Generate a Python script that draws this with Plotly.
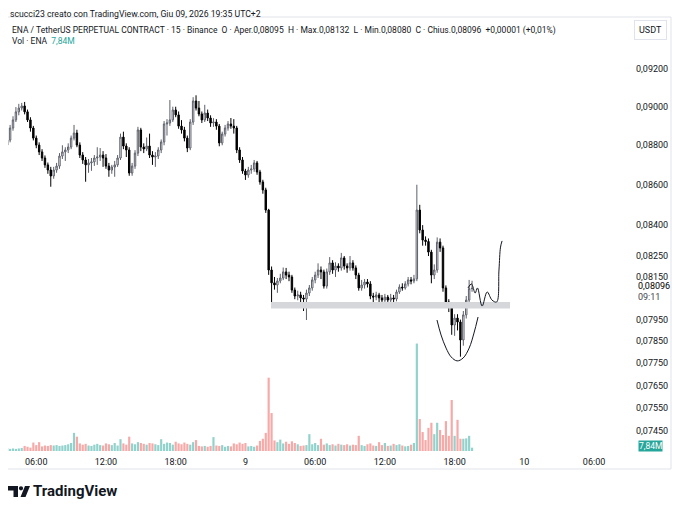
import numpy as np
import pandas as pd
import plotly.graph_objects as go

# ENA/USDT perp, 15m candles, Binance
opens = [
    0.08801, 0.08827, 0.08889, 0.08931, 0.08973, 0.08993, 0.09004, 0.08973, 0.08931, 0.08889,
    0.08837, 0.08801, 0.08766, 0.08735, 0.08700, 0.08674, 0.08644, 0.08674, 0.08694, 0.08745,
    0.08766, 0.08776, 0.08791, 0.08837, 0.08863, 0.08801, 0.08750, 0.08725, 0.08700, 0.08710,
    0.08715, 0.08735, 0.08740, 0.08750, 0.08735, 0.08694, 0.08674, 0.08689, 0.08700, 0.08735,
    0.08842, 0.08796, 0.08776, 0.08659, 0.08694, 0.08760, 0.08879, 0.08791, 0.08781, 0.08796,
    0.08750, 0.08740, 0.08745, 0.08776, 0.08817, 0.08910, 0.08915, 0.08931, 0.08983, 0.08957,
    0.08899, 0.08879, 0.08837, 0.08786, 0.08920, 0.09030, 0.08993, 0.08962, 0.08931, 0.08967,
    0.08941, 0.08915, 0.08920, 0.08899, 0.08812, 0.08858, 0.08889, 0.08910, 0.08899, 0.08889,
    0.08776, 0.08725, 0.08669, 0.08649, 0.08674, 0.08679, 0.08710, 0.08664, 0.08614, 0.08574,
    0.08474, 0.08183, 0.08122, 0.08112, 0.08131, 0.08145, 0.08174, 0.08159, 0.08150, 0.08088,
    0.08060, 0.08065, 0.08051, 0.08046, 0.08074, 0.08098, 0.08136, 0.08159, 0.08183, 0.08174,
    0.08107, 0.08174, 0.08217, 0.08183, 0.08202, 0.08193, 0.08241, 0.08202, 0.08193, 0.08217,
    0.08193, 0.08159, 0.08098, 0.08112, 0.08126, 0.08117, 0.08060, 0.08055, 0.08065, 0.08051,
    0.08041, 0.08055, 0.08041, 0.08051, 0.08046, 0.08079, 0.08102, 0.08098, 0.08117, 0.08136,
    0.08131, 0.08141, 0.08474, 0.08376, 0.08327, 0.08320, 0.08269, 0.08159, 0.08183, 0.08317,
    0.08289, 0.08098, 0.08032, 0.08013, 0.07925, 0.07957, 0.07939, 0.07856, 0.07972, 0.08041,
    0.08095,
]
highs = [
    0.08860, 0.08905, 0.08950, 0.08998, 0.09015, 0.09020, 0.09025, 0.08985, 0.08945, 0.08900,
    0.08850, 0.08815, 0.08780, 0.08748, 0.08712, 0.08690, 0.08690, 0.08710, 0.08760, 0.08800,
    0.08790, 0.08810, 0.08850, 0.08905, 0.08880, 0.08815, 0.08765, 0.08740, 0.08730, 0.08735,
    0.08750, 0.08790, 0.08786, 0.08770, 0.08755, 0.08710, 0.08700, 0.08720, 0.08750, 0.08860,
    0.08870, 0.08810, 0.08790, 0.08710, 0.08775, 0.08895, 0.08890, 0.08810, 0.08840, 0.08860,
    0.08770, 0.08765, 0.08790, 0.08830, 0.08925, 0.08935, 0.09035, 0.09000, 0.09000, 0.08975,
    0.08930, 0.08895, 0.08850, 0.08935, 0.09050, 0.09060, 0.09030, 0.08975, 0.09010, 0.08985,
    0.08955, 0.08940, 0.08935, 0.08910, 0.08870, 0.08905, 0.08925, 0.08941, 0.08935, 0.08900,
    0.08790, 0.08740, 0.08680, 0.08690, 0.08700, 0.08725, 0.08720, 0.08675, 0.08625, 0.08585,
    0.08480, 0.08200, 0.08150, 0.08145, 0.08165, 0.08195, 0.08193, 0.08175, 0.08160, 0.08100,
    0.08085, 0.08080, 0.08065, 0.08090, 0.08112, 0.08150, 0.08175, 0.08215, 0.08200, 0.08185,
    0.08190, 0.08245, 0.08230, 0.08220, 0.08215, 0.08265, 0.08250, 0.08215, 0.08250, 0.08230,
    0.08205, 0.08170, 0.08136, 0.08140, 0.08140, 0.08130, 0.08075, 0.08080, 0.08075, 0.08065,
    0.08070, 0.08065, 0.08070, 0.08065, 0.08090, 0.08115, 0.08120, 0.08130, 0.08150, 0.08150,
    0.08160, 0.08600, 0.08500, 0.08400, 0.08345, 0.08335, 0.08280, 0.08210, 0.08340, 0.08335,
    0.08300, 0.08110, 0.08045, 0.08025, 0.07975, 0.07975, 0.07950, 0.07990, 0.08060, 0.08136,
    0.08132,
]
lows = [
    0.08790, 0.08815, 0.08875, 0.08920, 0.08955, 0.08980, 0.08960, 0.08920, 0.08870, 0.08825,
    0.08785, 0.08750, 0.08720, 0.08685, 0.08655, 0.08590, 0.08630, 0.08660, 0.08680, 0.08730,
    0.08720, 0.08760, 0.08780, 0.08825, 0.08790, 0.08735, 0.08705, 0.08615, 0.08660, 0.08670,
    0.08695, 0.08700, 0.08720, 0.08690, 0.08680, 0.08640, 0.08655, 0.08640, 0.08690, 0.08725,
    0.08780, 0.08740, 0.08645, 0.08645, 0.08680, 0.08745, 0.08770, 0.08760, 0.08770, 0.08735,
    0.08700, 0.08690, 0.08730, 0.08760, 0.08800, 0.08850, 0.08900, 0.08920, 0.08945, 0.08885,
    0.08860, 0.08820, 0.08765, 0.08775, 0.08905, 0.08980, 0.08950, 0.08915, 0.08920, 0.08925,
    0.08895, 0.08895, 0.08880, 0.08795, 0.08800, 0.08845, 0.08875, 0.08885, 0.08860, 0.08760,
    0.08710, 0.08655, 0.08624, 0.08635, 0.08655, 0.08665, 0.08650, 0.08600, 0.08555, 0.08460,
    0.08160, 0.08020, 0.08090, 0.08075, 0.08120, 0.08135, 0.08140, 0.08130, 0.08075, 0.08045,
    0.08040, 0.08020, 0.07990, 0.07948, 0.08060, 0.08085, 0.08120, 0.08145, 0.08140, 0.08095,
    0.08095, 0.08160, 0.08165, 0.08150, 0.08175, 0.08180, 0.08185, 0.08170, 0.08180, 0.08180,
    0.08140, 0.08085, 0.08085, 0.08095, 0.08100, 0.08045, 0.08030, 0.08040, 0.08030, 0.08005,
    0.08025, 0.08015, 0.08025, 0.08020, 0.08035, 0.08070, 0.08085, 0.08090, 0.08105, 0.08115,
    0.08120, 0.08130, 0.08360, 0.08300, 0.08300, 0.08250, 0.08120, 0.08140, 0.08170, 0.08270,
    0.08080, 0.08015, 0.07985, 0.07880, 0.07875, 0.07900, 0.07780, 0.07830, 0.07955, 0.08030,
    0.08080,
]
closes = [
    0.08827, 0.08889, 0.08931, 0.08973, 0.08993, 0.09004, 0.08973, 0.08931, 0.08889, 0.08837,
    0.08801, 0.08766, 0.08735, 0.08700, 0.08674, 0.08644, 0.08674, 0.08694, 0.08745, 0.08766,
    0.08776, 0.08791, 0.08837, 0.08863, 0.08801, 0.08750, 0.08725, 0.08700, 0.08710, 0.08715,
    0.08735, 0.08740, 0.08750, 0.08735, 0.08694, 0.08674, 0.08689, 0.08700, 0.08735, 0.08842,
    0.08796, 0.08776, 0.08659, 0.08694, 0.08760, 0.08879, 0.08791, 0.08781, 0.08796, 0.08750,
    0.08740, 0.08745, 0.08776, 0.08817, 0.08910, 0.08915, 0.08931, 0.08983, 0.08957, 0.08899,
    0.08879, 0.08837, 0.08786, 0.08920, 0.09030, 0.08993, 0.08962, 0.08931, 0.08967, 0.08941,
    0.08915, 0.08920, 0.08899, 0.08812, 0.08858, 0.08889, 0.08910, 0.08899, 0.08889, 0.08776,
    0.08725, 0.08669, 0.08649, 0.08674, 0.08679, 0.08710, 0.08664, 0.08614, 0.08574, 0.08474,
    0.08183, 0.08122, 0.08112, 0.08131, 0.08145, 0.08174, 0.08159, 0.08150, 0.08088, 0.08060,
    0.08065, 0.08051, 0.08046, 0.08074, 0.08098, 0.08136, 0.08159, 0.08183, 0.08174, 0.08107,
    0.08174, 0.08217, 0.08183, 0.08202, 0.08193, 0.08241, 0.08202, 0.08193, 0.08217, 0.08193,
    0.08159, 0.08098, 0.08112, 0.08126, 0.08117, 0.08060, 0.08055, 0.08065, 0.08051, 0.08041,
    0.08055, 0.08041, 0.08051, 0.08046, 0.08079, 0.08102, 0.08098, 0.08117, 0.08136, 0.08131,
    0.08141, 0.08474, 0.08376, 0.08327, 0.08320, 0.08269, 0.08159, 0.08183, 0.08317, 0.08289,
    0.08098, 0.08032, 0.08013, 0.07925, 0.07957, 0.07939, 0.07856, 0.07972, 0.08041, 0.08095,
    0.08096,
]
# volume in millions of ENA
volumes = [
    7, 5, 6, 5, 6, 7, 12, 10, 8, 20, 14, 21, 11,
    13, 12, 14, 13, 14, 12, 13, 14, 16, 19, 43, 34,
    18, 15, 17, 13, 12, 15, 17,
    14, 13, 18, 16, 14, 19, 13, 28, 18, 15, 34,
    18, 16, 21, 19, 17, 15, 19, 18, 16, 14, 28,
    17, 20, 19, 15, 22, 18, 16, 20, 17, 15, 21, 26,
    12, 11, 12, 10, 12, 33, 13, 12, 14, 10, 12, 11,
    18, 16, 20, 17, 19, 11, 12, 10, 13, 24, 29, 43,
    174, 90, 25, 21, 27, 18, 22, 17, 23, 19, 16, 12, 13, 14, 40,
    16, 19, 14, 29, 15, 18, 14, 16, 13, 17, 15, 14, 16, 13, 15, 14, 36,
    14, 12, 16, 18, 13, 12, 21, 14, 19, 12, 13, 17, 14, 16, 13, 11, 12, 15, 19,
    255, 76, 45, 26, 55, 67, 40, 67, 50, 38, 71, 36, 121, 36, 74, 29, 29, 30, 36, 7.84,
]
first_bar = "2026-06-08 03:30"

price_ticks = [0.092, 0.090, 0.088, 0.086, 0.084, 0.0825, 0.0815,
               0.0795, 0.0785, 0.0775, 0.0765, 0.0755, 0.0745]
time_ticks = ["2026-06-08 06:00", "2026-06-08 12:00", "2026-06-08 18:00",
              "2026-06-09 00:00", "2026-06-09 06:00", "2026-06-09 12:00",
              "2026-06-09 18:00", "2026-06-10 00:00", "2026-06-10 06:00"]
time_labels = ["06:00", "12:00", "18:00", "9", "06:00", "12:00", "18:00", "10", "06:00"]

# user drawings
zone_times = ["2026-06-09 02:12", "2026-06-09 22:46"]
zone_prices = [0.08002, 0.08032]
cup_times = ["2026-06-09 16:29", "2026-06-09 16:50", "2026-06-09 17:16", "2026-06-09 17:42",
             "2026-06-09 18:13", "2026-06-09 18:44", "2026-06-09 19:15", "2026-06-09 19:40",
             "2026-06-09 20:01"]
cup_prices = [0.07948, 0.07879, 0.07819, 0.07779, 0.07761, 0.07774, 0.07819, 0.07888, 0.07962]
wave_times = ["2026-06-09 19:09", "2026-06-09 19:27", "2026-06-09 19:46", "2026-06-09 19:58",
              "2026-06-09 20:22", "2026-06-09 20:48", "2026-06-09 21:13", "2026-06-09 21:37",
              "2026-06-09 21:49", "2026-06-09 21:57", "2026-06-09 22:05"]
wave_prices = [0.08098, 0.08117, 0.08074, 0.08098, 0.08013, 0.08079, 0.08041, 0.08032,
               0.08183, 0.08293, 0.08323]

# page is 680x512 but the browser body adds an 8px margin, so the figure is 8px smaller
PAGE_W, PAGE_H, OFF = 680, 512, 8
L, R, T, B = 8, 627, 17, 451  # plot area in page pixels
TXT = "#131722"
FONT = "Roboto"


def px(x):
    return (x - L) / (R - L)


def py(y):
    return (B - y) / (B - T)


def fmt(p):
    return f"{p:.5f}".replace(".", ",")


times = pd.date_range(first_bar, periods=len(closes), freq="15min")
vol_colors = [
    "rgba(38,166,154,0.5)" if c >= o else "rgba(239,83,80,0.5)"
    for o, c in zip(opens, closes)
]

fig = go.Figure()

fig.add_trace(
    go.Scatter(
        x=[zone_times[0], zone_times[1], zone_times[1], zone_times[0], zone_times[0]],
        y=[zone_prices[0], zone_prices[0], zone_prices[1], zone_prices[1], zone_prices[0]],
        mode="lines",
        fill="toself",
        fillcolor="#d6d7db",
        line=dict(width=0),
        hoverinfo="skip",
    )
)
fig.add_trace(
    go.Candlestick(
        x=times,
        open=opens,
        high=highs,
        low=lows,
        close=closes,
        increasing=dict(line=dict(color="#5d606b", width=1), fillcolor="#ffffff"),
        decreasing=dict(line=dict(color="#000000", width=1), fillcolor="#000000"),
        whiskerwidth=0,
        hoverinfo="skip",
    )
)
fig.add_trace(
    go.Scatter(x=cup_times, y=cup_prices, mode="lines",
               line=dict(color=TXT, width=1, shape="spline"), hoverinfo="skip")
)
fig.add_trace(
    go.Scatter(x=wave_times, y=wave_prices, mode="lines",
               line=dict(color=TXT, width=1, shape="spline"), hoverinfo="skip")
)
fig.add_trace(
    go.Bar(x=times, y=volumes, yaxis="y2", marker=dict(color=vol_colors, line=dict(width=0)),
           hoverinfo="skip")
)

annotations = [
    dict(x=px(8), y=py(14), text="scucci23 creato con TradingView.com, Giu 09, 2026 19:35 UTC+2",
         font=dict(size=8.7, color=TXT)),
    dict(x=px(10), y=py(30),
         text="ENA / TetherUS PERPETUAL CONTRACT · 15 · Binance  O · Aper.0,08095  H · Max.0,08132"
              "  L · Min.0,08080  C · Chius.0,08096  +0,00001 (+0,01%)",
         font=dict(size=8.5, color=TXT)),
    dict(x=px(10), y=py(41.5), text="Vol · ENA  <span style='color:#26a69a'>7,84M</span>",
         font=dict(size=8.5, color=TXT)),
    dict(x=px(31), y=py(491), text="<b>TradingView</b>", font=dict(size=15, color=TXT)),
]
for a in annotations:
    a.update(xref="paper", yref="paper", xanchor="left", yanchor="middle", showarrow=False)

annotations += [
    dict(x=px(650), y=py(30), xref="paper", yref="paper", text="USDT", showarrow=False,
         xanchor="center", yanchor="middle",
         font=dict(size=9, color=TXT), bordercolor="#e0e3eb", borderwidth=1, borderpad=4),
    dict(x=px(636), y=np.log10(closes[-1]), xref="paper", yref="y", text=fmt(closes[-1]),
         xanchor="left", yanchor="middle", yshift=2, showarrow=False,
         font=dict(size=9, color="#000000")),
    dict(x=px(636), y=np.log10(closes[-1]), xref="paper", yref="y", text="09:11",
         xanchor="left", yanchor="middle", yshift=-9, showarrow=False,
         font=dict(size=9, color="#434651")),
    dict(x=px(650), y=py(445.5), xref="paper", yref="paper", text="7,84M", showarrow=False,
         xanchor="center", yanchor="middle",
         font=dict(size=8.5, color="#ffffff"), bgcolor="#26a69a", borderpad=0),
]

shapes = [
    dict(type="rect", xref="paper", yref="paper", x0=px(5), x1=px(671), y0=py(17), y1=py(469),
         line=dict(color="#e0e3eb", width=1), layer="below"),
    # TradingView logo
    dict(type="path", xref="paper", yref="paper", fillcolor=TXT, line=dict(width=0),
         path=f"M{px(8)},{py(486)} L{px(18)},{py(486)} L{px(18)},{py(497)} L{px(13.5)},{py(497)}"
              f" L{px(13.5)},{py(490.5)} L{px(8)},{py(490.5)} Z"),
    dict(type="circle", xref="paper", yref="paper", fillcolor=TXT, line=dict(width=0),
         x0=px(18.9), x1=px(23.1), y0=py(490.4), y1=py(486.2)),
    dict(type="path", xref="paper", yref="paper", fillcolor=TXT, line=dict(width=0),
         path=f"M{px(25)},{py(486)} L{px(30)},{py(486)} L{px(25.5)},{py(497)} L{px(20.5)},{py(497)} Z"),
]

fig.update_layout(
    width=PAGE_W - OFF,
    height=PAGE_H - OFF,
    margin=dict(l=L - OFF, r=PAGE_W - R, t=T - OFF, b=PAGE_H - B),
    paper_bgcolor="#ffffff",
    plot_bgcolor="#ffffff",
    showlegend=False,
    hovermode=False,
    bargap=0.25,
    font=dict(family=FONT, color=TXT),
    annotations=annotations,
    shapes=shapes,
    xaxis=dict(
        type="date",
        range=["2026-06-08 03:34:10", "2026-06-10 08:50"],
        tickvals=time_ticks,
        ticktext=time_labels,
        showgrid=False,
        zeroline=False,
        showline=False,
        ticks="",
        tickfont=dict(size=9, color=TXT),
        ticklabelstandoff=4,
        rangeslider=dict(visible=False),
        fixedrange=True,
    ),
    yaxis=dict(
        type="log",
        side="right",
        range=[np.log10(0.07364), np.log10(0.09483)],
        tickvals=price_ticks,
        ticktext=[fmt(p) for p in price_ticks],
        showgrid=False,
        zeroline=False,
        showline=False,
        ticks="",
        tickfont=dict(size=9, color=TXT),
        ticklabelstandoff=8,
        fixedrange=True,
    ),
    yaxis2=dict(overlaying="y", range=[0, 1030], visible=False, fixedrange=True),
)

fig.write_html("out.html")
